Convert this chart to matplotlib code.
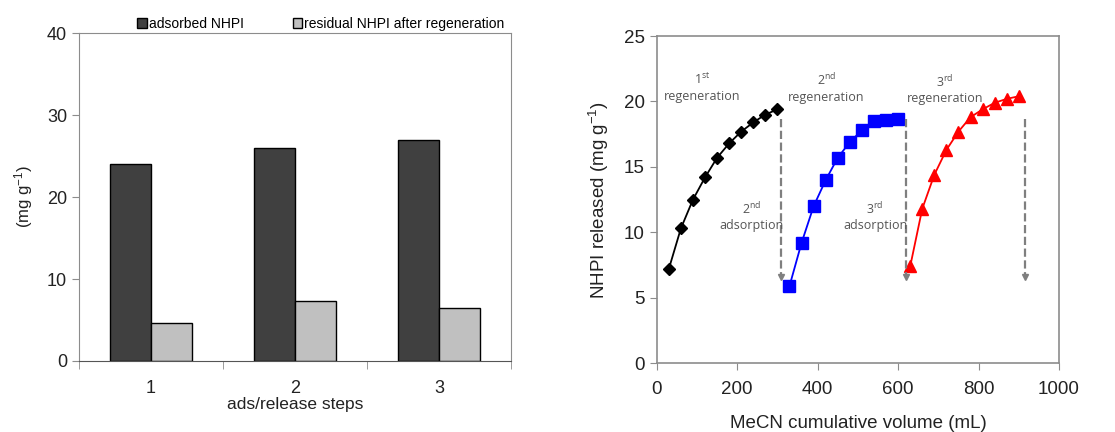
import matplotlib.pyplot as plt
from matplotlib.ticker import FixedLocator, NullFormatter

plt.rcParams['font.family'] = ['Liberation Sans', 'DejaVu Sans']
plt.rcParams['mathtext.default'] = 'regular'

# left panel: bars
steps = [1, 2, 3]
adsorbed = [24.0, 26.0, 27.0]
residual = [4.6, 7.3, 6.5]

# right panel: release curves
vol_1 = [30, 60, 90, 120, 150, 180, 210, 240, 270, 300]
rel_1 = [7.2, 10.3, 12.5, 14.2, 15.7, 16.8, 17.7, 18.4, 19.0, 19.4]
vol_2 = [330, 360, 390, 420, 450, 480, 510, 540, 570, 600]
rel_2 = [5.9, 9.2, 12.0, 14.0, 15.7, 16.9, 17.8, 18.5, 18.6, 18.7]
vol_3 = [630, 660, 690, 720, 750, 780, 810, 840, 870, 900]
rel_3 = [7.4, 11.8, 14.4, 16.3, 17.7, 18.8, 19.4, 19.9, 20.2, 20.4]

# dashed adsorption arrows (x, top, bottom)
arrow_x = [310, 620, 915]
arrow_top = [18.7, 18.7, 18.7]
arrow_bot = [6.6, 6.6, 6.6]

spine_c = '#8c8c8c'
txt_c = '#222222'

fig = plt.figure(figsize=(11.15, 4.32), dpi=100)

# ---- left: bar chart
ax1 = fig.add_axes([0.0709, 0.1644, 0.3874, 0.759])
w = 0.285
xs = [s - w / 2 for s in steps]
xs2 = [s + w / 2 for s in steps]
ax1.bar(xs, adsorbed, width=w, color='#404040', edgecolor='black', lw=1, label='adsorbed NHPI')
ax1.bar(xs2, residual, width=w, color='#c0c0c0', edgecolor='black', lw=1,
        label='residual NHPI after regeneration')
ax1.set_xlim(0.5, 3.5)
ax1.set_ylim(0, 40)
ax1.set_yticks([0, 10, 20, 30, 40])
ax1.set_xticks(steps)
ax1.xaxis.set_minor_locator(FixedLocator([0.5, 1.5, 2.5, 3.5]))
ax1.xaxis.set_minor_formatter(NullFormatter())
ax1.tick_params(axis='x', which='major', length=0, pad=14, labelsize=13, colors=txt_c)
ax1.tick_params(axis='x', which='minor', length=6, direction='out', color=spine_c)
ax1.tick_params(axis='y', length=5, direction='out', color=spine_c, labelsize=13, labelcolor=txt_c)
for s in ax1.spines.values():
    s.set_color(spine_c)
ax1.spines['bottom'].set_color('#555555')
ax1.set_ylabel('(mg g$^{-1}$)', fontsize=12, color=txt_c, labelpad=9)
ax1.set_xlabel('ads/release steps', fontsize=12.5, color=txt_c, labelpad=0)
ax1.legend(loc='lower center', bbox_to_anchor=(0.56, 0.99), ncol=2, frameon=False,
           fontsize=10, handlelength=0.7, handleheight=0.7, handletextpad=0.15,
           columnspacing=3.5, borderaxespad=0)

# ---- right: release curves
ax2 = fig.add_axes([0.589, 0.159, 0.3608, 0.7576])
ax2.plot(vol_1, rel_1, '-D', color='black', ms=6, lw=1.3)
ax2.plot(vol_2, rel_2, '-s', color='#0000ff', ms=9, lw=1.3)
ax2.plot(vol_3, rel_3, '-^', color='#ff0000', ms=9, lw=1.3)
for x, t, b in zip(arrow_x, arrow_top, arrow_bot):
    ax2.plot([x, x], [t, b], ls='--', color='#7f7f7f', lw=1.6)
    ax2.plot([x], [b], 'v', color='#7f7f7f', ms=5)

ann_c = '#555555'
ann = dict(ha='center', va='center', fontsize=9, color=ann_c, family=['Open Sans', 'DejaVu Sans'])
ax2.text(112, 21.7, '1$^{st}$', **ann)
ax2.text(112, 20.4, 'regeneration', **ann)
ax2.text(422, 21.6, '2$^{nd}$', **ann)
ax2.text(422, 20.3, 'regeneration', **ann)
ax2.text(717, 21.5, '3$^{rd}$', **ann)
ax2.text(717, 20.2, 'regeneration', **ann)
ax2.text(236, 11.8, '2$^{nd}$', **ann)
ax2.text(236, 10.5, 'adsorption', **ann)
ax2.text(543, 11.8, '3$^{rd}$', **ann)
ax2.text(543, 10.5, 'adsorption', **ann)

ax2.set_xlim(0, 1000)
ax2.set_ylim(0, 25)
ax2.set_xticks([0, 200, 400, 600, 800, 1000])
ax2.set_yticks([0, 5, 10, 15, 20, 25])
ax2.tick_params(length=5, direction='out', color=spine_c, labelsize=13.5, labelcolor=txt_c)
ax2.tick_params(axis='x', pad=8)
for s in ax2.spines.values():
    s.set_color(spine_c)
    s.set_linewidth(1.2)
ax2.set_ylabel('NHPI released (mg g$^{-1}$)', fontsize=13.5, color=txt_c, labelpad=9)
ax2.set_xlabel('MeCN cumulative volume (mL)', fontsize=13.5, color=txt_c, labelpad=12)

fig.savefig('out.png', dpi=100)
